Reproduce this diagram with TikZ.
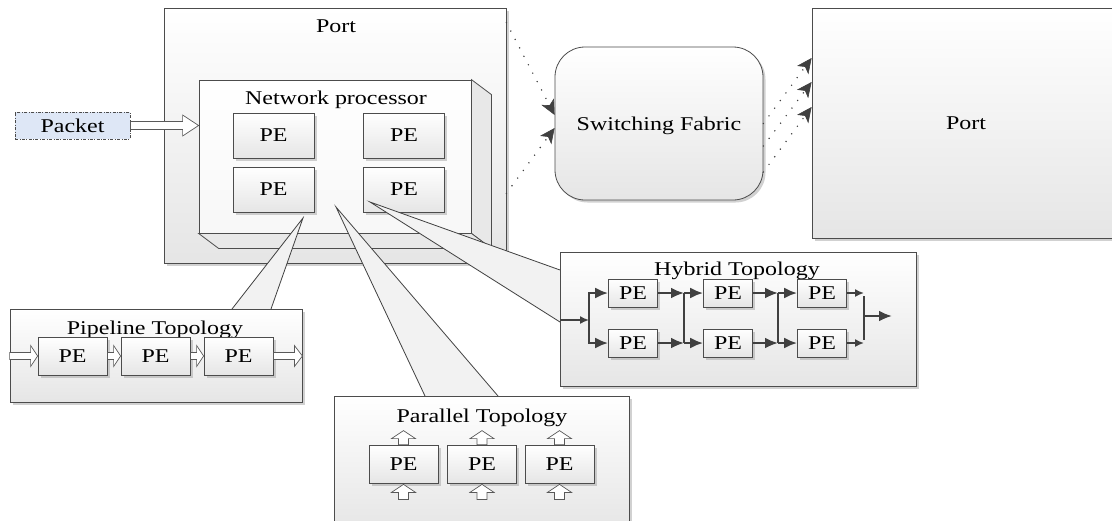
\documentclass[tikz,border=0pt]{standalone}
\usepackage{fontspec}
\setmainfont{Liberation Serif}
\usepackage{graphicx}
\usetikzlibrary{arrows.meta,shadows,calc}
\newcommand\sx[1]{\scalebox{1.23}[1]{#1}}
% horizontal hollow arrow: from, to, shaft half, head half, head length
\newcommand\hollowR[5]{%
  \draw[hollow] let \p1=(#1), \p2=(#2) in
   (\x1,\y1+#3) -- (\x2-#5,\y1+#3) -- (\x2-#5,\y1+#4) -- (\x2,\y1) --
   (\x2-#5,\y1-#4) -- (\x2-#5,\y1-#3) -- (\x1,\y1-#3) -- cycle;}
% upward hollow arrow: from (bottom), to (tip), shaft half, head half, head length
\newcommand\hollowU[5]{%
  \draw[hollow] let \p1=(#1), \p2=(#2) in
   (\x1+#3,\y1) -- (\x1+#3,\y2-#5) -- (\x1+#4,\y2-#5) -- (\x1,\y2) --
   (\x1-#4,\y2-#5) -- (\x1-#3,\y2-#5) -- (\x1-#3,\y1) -- cycle;}
% dotted connector with a solid stealth head
\newcommand\dotcon[2]{%
  \draw[dotline] (#1) -- (#2);
  \draw[dottip] ($(#2)!3pt!(#1)$) -- (#2);}
\definecolor{pktblue}{RGB}{222,231,246}
\begin{document}
\begin{tikzpicture}[x=1pt,y=-1pt,
  every node/.style={font=\fontsize{19.5}{23}\selectfont, text=black, inner sep=0pt},
  box/.style={draw=black!70, line width=0.8pt, top color=white, bottom color=black!10,
    drop shadow={shadow xshift=2.5pt, shadow yshift=-2.5pt, fill=black!40, opacity=0.45}},
  pebig/.style={box, minimum width=81pt, minimum height=45pt},
  pemid/.style={box, minimum width=69pt, minimum height=38pt},
  pesmall/.style={box, minimum width=49pt, minimum height=28pt},
  face/.style={draw=black!70, line width=0.8pt, fill=black!9},
  hollow/.style={draw=black!65, line width=0.7pt, fill=white},
  wedge/.style={draw=black!75, line width=0.8pt, fill=black!5},
  dotline/.style={draw=black!75, line width=1.6pt, line cap=round, dash pattern=on 0pt off 9.5pt, shorten >=6pt},
  dottip/.style={draw=black!75, line width=0.6pt, -{Stealth[length=15pt,width=14pt,inset=4pt]}},
  harr/.style={draw=black!75, line width=2.3pt, -{Latex[length=13pt,width=11pt]}},
  harrs/.style={draw=black!75, line width=1.6pt, -{Latex[length=9pt,width=8pt]}},
  hline/.style={draw=black!75, line width=2.3pt}
]
\useasboundingbox[fill=white] (0,0) rectangle (1112,520);

% ---- left port and network processor
\node[box, minimum width=342pt, minimum height=255pt] (portL) at (335,135.5) {};
\node[anchor=base] (portLt) at (336,32) {\sx{Port}};
\node[draw=black!70, line width=0.8pt, top color=white, bottom color=black!3,
      minimum width=272pt, minimum height=153pt] (np) at (335,156.5) {};
\filldraw[face] (np.north east) -- ++(20,15) -- ($(np.south east)+(20,15)$) -- (np.south east) -- cycle;
\filldraw[face] (np.south west) -- ++(20,15) -- ($(np.south east)+(20,15)$) -- (np.south east) -- cycle;
\node[anchor=base] (npt) at (336,104) {\sx{Network processor}};
\node[pebig] (pa) at (273.5,135.5) {\sx{PE}};
\node[pebig] (pb) at (404,135.5) {\sx{PE}};
\node[pebig] (pc) at (273.5,189.5) {\sx{PE}};
\node[pebig] (pd) at (404,189.5) {\sx{PE}};

% ---- packet
\node[draw=black!70, line width=0.8pt, dash pattern=on 3pt off 1.5pt on 0.8pt off 1.5pt,
      fill=pktblue, minimum width=115pt, minimum height=27pt] (pkt) at (72.5,125.5) {\sx{Packet}};
\hollowR{pkt.east}{np.west |- pkt.east}{4pt}{10.5pt}{16pt}

% ---- switching fabric and right port
\node[box, rounded corners=30pt, minimum width=208pt, minimum height=153pt] (sf) at (659,123.5) {};
\node[anchor=base] (sft) at (659,130) {\sx{Switching Fabric}};
\node[box, minimum width=308pt, minimum height=230pt] (portR) at (966,123) {};
\node[anchor=base] (portRt) at (966,129) {\sx{Port}};

\coordinate (d1s) at ([yshift=-15pt]portL.north east);
\coordinate (d1e) at ([yshift=8.5pt]sf.west);
\coordinate (d2s) at ([yshift=70pt]portL.south east);
\coordinate (d2e) at ([yshift=-4.5pt]sf.west);
\coordinate (d3s) at (sf.east);
\coordinate (d3e) at ([yshift=65pt]portR.west);
\coordinate (d4s) at ([yshift=-22.5pt]sf.east);
\coordinate (d4e) at ([yshift=41pt]portR.west);
\coordinate (d5s) at ([yshift=-48.5pt]sf.east);
\coordinate (d5e) at ([yshift=16pt]portR.west);
\dotcon{d1s}{d1e}
\dotcon{d2s}{d2e}
\dotcon{d3s}{d3e}
\dotcon{d4s}{d4e}
\dotcon{d5s}{d5e}

% ---- callout wedges
\coordinate (wpA) at (303,218);
\coordinate (wpB) at (232,309);
\coordinate (wpC) at (271,309);
\coordinate (wqA) at (336,207);
\coordinate (wqB) at (425,396);
\coordinate (wqC) at (498,396);
\coordinate (whA) at (370,202);
\coordinate (whB) at (560,270);
\coordinate (whC) at (560,322);
\filldraw[wedge] (wpB) -- (wpA) -- (wpC);
\filldraw[wedge] (wqB) -- (wqA) -- (wqC);
\filldraw[wedge] (whB) -- (whA) -- (whC);

% ---- pipeline topology
\node[box, minimum width=292pt, minimum height=93pt] (pipe) at (156,355.5) {};
\node[anchor=base] (pipet) at (155,334) {\sx{Pipeline Topology}};
\node[pemid] (pp1) at (72.5,356) {\sx{PE}};
\node[pemid] (pp2) at (155.5,356) {\sx{PE}};
\node[pemid] (pp3) at (238.5,356) {\sx{PE}};
\hollowR{pipe.west |- pp1.west}{pp1.west}{3.5pt}{10.5pt}{7pt}
\hollowR{pp1.east}{pp2.west}{3.5pt}{10.5pt}{7pt}
\hollowR{pp2.east}{pp3.west}{3.5pt}{10.5pt}{7pt}
\hollowR{pp3.east}{pipe.east |- pp3.east}{3.5pt}{10.5pt}{8pt}

% ---- parallel topology
\node[box, minimum width=295pt, minimum height=134pt] (par) at (481.5,463) {};
\node[anchor=base] (part) at (482,422) {\sx{Parallel Topology}};
\node[pemid] (ql1) at (403.5,464) {\sx{PE}};
\node[pemid] (ql2) at (482,464) {\sx{PE}};
\node[pemid] (ql3) at (559.5,464) {\sx{PE}};
\foreach \q in {ql1,ql2,ql3}{
  \hollowU{\q.north}{[yshift=14pt]\q.north}{5pt}{12pt}{8pt}
  \hollowU{[yshift=-16pt]\q.south}{[yshift=-1pt]\q.south}{5pt}{12pt}{8pt}
}

% ---- hybrid topology
\node[box, minimum width=356pt, minimum height=134pt] (hyb) at (738,319) {};
\node[anchor=base] (hybt) at (737,275) {\sx{Hybrid Topology}};
\node[pesmall] (h11) at (633,293) {\sx{PE}};
\node[pesmall] (h12) at (728,293) {\sx{PE}};
\node[pesmall] (h13) at (822,293) {\sx{PE}};
\node[pesmall] (h21) at (633,343) {\sx{PE}};
\node[pesmall] (h22) at (728,343) {\sx{PE}};
\node[pesmall] (h23) at (822,343) {\sx{PE}};
\coordinate (hin) at (560,320);
\coordinate (j0) at (589,320);
\coordinate (j1t) at (684,293);
\coordinate (j1b) at (684,343);
\coordinate (j2t) at (778,293);
\coordinate (j2b) at (778,343);
\coordinate (j3t) at (864,293);
\coordinate (j3b) at (864,343);
\coordinate (j3m) at (864,316);
\coordinate (hout) at (892,316);
\draw[harrs] (hin) -- (j0);
\draw[harr] (j0) |- (h11.west);
\draw[harr] (j0) |- (h21.west);
\draw[harr] (h11.east) -- (j1t);
\draw[harr] (h21.east) -- (j1b);
\draw[hline] (j1t) -- (j1b);
\draw[harr] (j1t) -- (h12.west);
\draw[harr] (j1b) -- (h22.west);
\draw[harr] (h12.east) -- (j2t);
\draw[harr] (h22.east) -- (j2b);
\draw[hline] (j2t) -- (j2b);
\draw[harr] (j2t) -- (h13.west);
\draw[harr] (j2b) -- (h23.west);
\draw[harrs] (h13.east) -- (j3t);
\draw[harrs] (h23.east) -- (j3b);
\draw[hline, line width=1.6pt] ([yshift=-3pt]j3t) -- ([yshift=3pt]j3b);
\draw[harr] (j3m) -- (hout);
\end{tikzpicture}
\end{document}
